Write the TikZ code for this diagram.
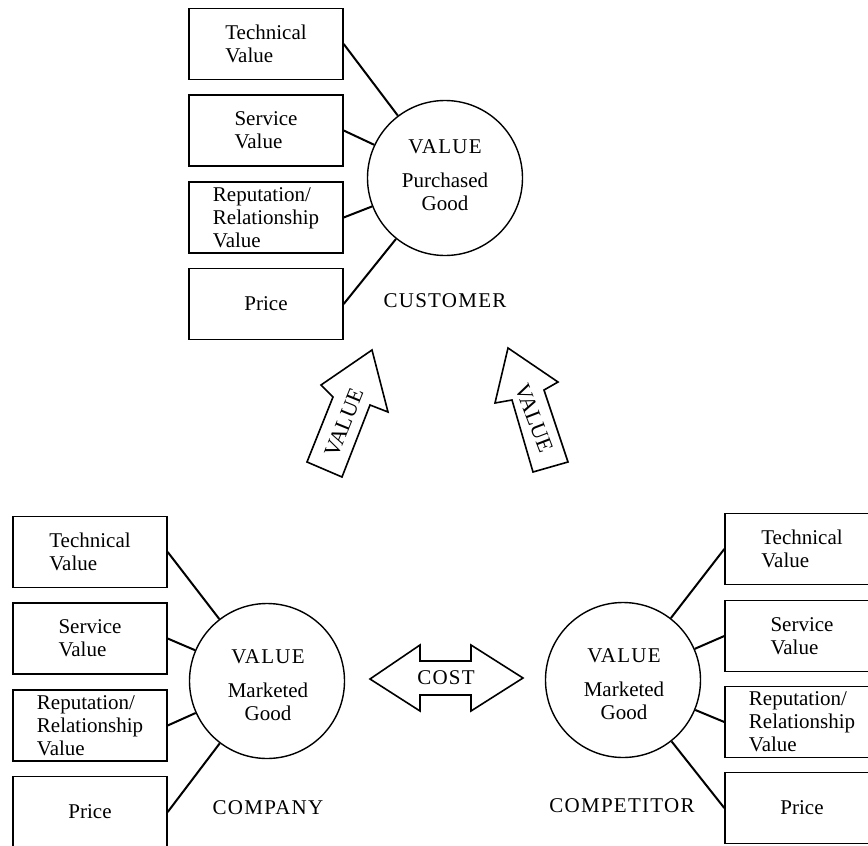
\documentclass[tikz,border=0pt]{standalone}
\usepackage{fontspec}
\setmainfont{Liberation Serif}
\newfontfamily\lsfont[LetterSpace=6]{Liberation Serif}
\begin{document}
\begin{tikzpicture}[x=1pt,y=-1pt,
  every node/.style={font=\fontsize{21}{23}\selectfont},
  vbox/.style={draw,line width=1.4pt,minimum width=154pt,minimum height=71pt,align=left,inner sep=0pt},
  vcircle/.style={draw,circle,line width=1.4pt,minimum size=155pt,inner sep=0pt},
  ctext/.style={align=center,inner sep=0pt},
  link/.style={line width=2pt},
  bigarrow/.style={draw,line width=1.6pt,line join=miter},
  lbl/.style={font=\fontsize{21}{23}\lsfont,inner sep=0pt},
  arrtext/.style={font=\fontsize{22}{24}\selectfont,inner sep=0pt}
]
\path[use as bounding box,clip] (0,0) rectangle (868,846);

% ---------- CUSTOMER ----------
\node[vbox] (cutech) at (266,44) {Technical\\Value};
\node[vbox] (cuserv) at (266,130.5) {Service\\Value};
\node[vbox] (curep)  at (266,217.5) {Reputation/\\Relationship\\Value};
\node[vbox] (cuprice) at (266,304) {Price};
\node[vcircle] (cucirc) at (445,178) {};
\node[ctext] (cutext) at (445,175.5) {{\lsfont VALUE}\\[11pt]Purchased\\Good};
\node[lbl] (culbl) at (445,301) {CUSTOMER};
\draw[link] (cutech.east) -- (cucirc);
\draw[link] (cuserv.east) -- (cucirc);
\draw[link] (curep.east) -- (cucirc);
\draw[link] (cuprice.east) -- (cucirc);

% ---------- COMPANY ----------
\node[vbox] (cotech) at (90,552) {Technical\\Value};
\node[vbox] (coserv) at (90,638.5) {Service\\Value};
\node[vbox] (corep)  at (90,725.5) {Reputation/\\Relationship\\Value};
\node[vbox] (coprice) at (90,812) {Price};
\node[vcircle] (cocirc) at (267,681) {};
\node[ctext] (cotext) at (268,685.5) {{\lsfont VALUE}\\[11pt]Marketed\\Good};
\node[lbl] (colbl) at (268,808) {COMPANY};
\draw[link] (cotech.east) -- (cocirc);
\draw[link] (coserv.east) -- (cocirc);
\draw[link] (corep.east) -- (cocirc);
\draw[link] (coprice.east) -- (cocirc);

% ---------- COMPETITOR ----------
\node[vbox] (cptech) at (802,549) {Technical\\Value};
\node[vbox] (cpserv) at (802,636) {Service\\Value};
\node[vbox] (cprep)  at (802,722) {Reputation/\\Relationship\\Value};
\node[vbox] (cpprice) at (802,808) {Price};
\node[vcircle] (cpcirc) at (623,680) {};
\node[ctext] (cptext) at (624,684.5) {{\lsfont VALUE}\\[11pt]Marketed\\Good};
\node[lbl] (cplbl) at (622,806) {COMPETITOR};
\draw[link] (cptech.west) -- (cpcirc);
\draw[link] (cpserv.west) -- (cpcirc);
\draw[link] (cprep.west) -- (cpcirc);
\draw[link] (cpprice.west) -- (cpcirc);

% ---------- COST double arrow ----------
\draw[bigarrow] (370,679) -- (420,645) -- (420,661) -- (471,661) -- (471,645)
  -- (523,678) -- (471,711) -- (471,695) -- (420,695) -- (420,711) -- cycle;
\node[lbl] (cost) at (446,678) {COST};

% ---------- VALUE arrows ----------
\draw[bigarrow] (372,350) -- (388,412) -- (370,405) -- (342,477) -- (307,462)
  -- (333,397) -- (321,385) -- cycle;
\node[arrtext,rotate=68] (valL) at (344,423) {VALUE};
\draw[bigarrow] (508,348) -- (558,382) -- (544,390) -- (568,462) -- (533,472)
  -- (512,400) -- (495,403) -- cycle;
\node[arrtext,rotate=-69] (valR) at (534,418) {VALUE};
\end{tikzpicture}
\end{document}
